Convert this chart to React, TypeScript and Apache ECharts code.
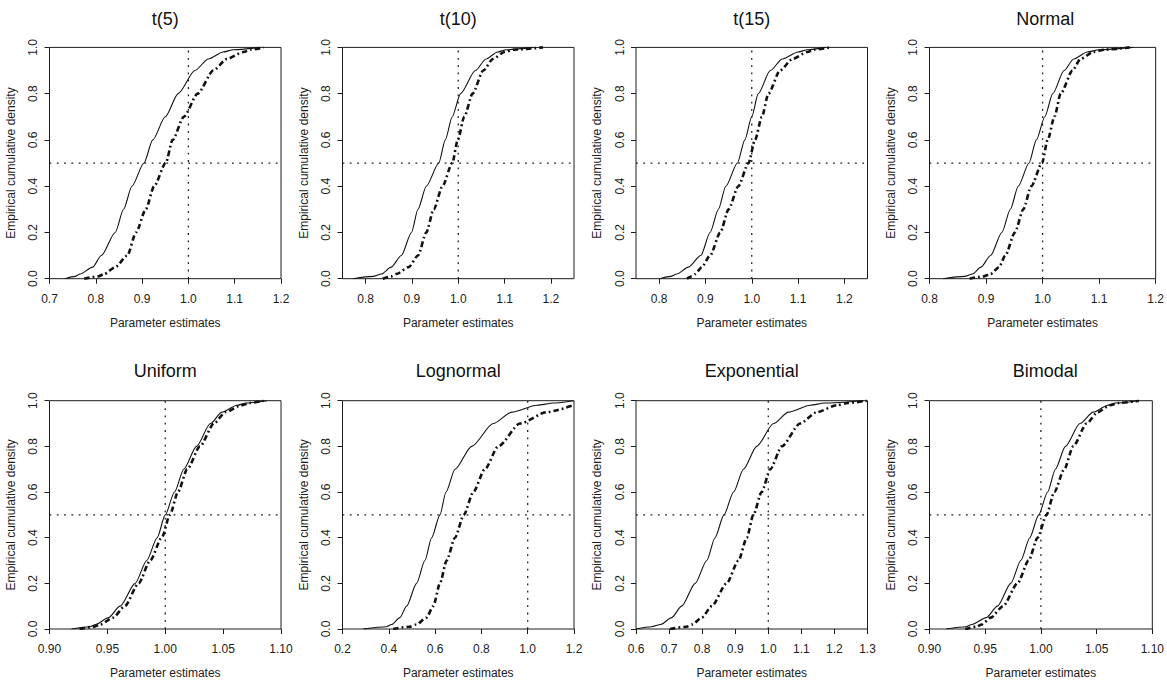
import React, { useEffect, useRef } from "react";
import * as echarts from "echarts";

// Cumulative probability levels at which each curve's quantiles are listed
const PROBS = [0, 0.01, 0.02, 0.05, 0.1, 0.2, 0.3, 0.4, 0.5, 0.6, 0.7, 0.8, 0.9, 0.95, 0.98, 0.99, 1];

// Quantiles of the parameter estimates (solid = thin line, dashed = thick dot-dash line)
const T5_SOLID = [0.734, 0.755, 0.766, 0.793, 0.812, 0.842, 0.86, 0.878, 0.904, 0.923, 0.95, 0.978, 1.014, 1.043, 1.075, 1.097, 1.155];
const T5_DASHED = [0.775, 0.805, 0.818, 0.842, 0.868, 0.887, 0.908, 0.926, 0.951, 0.966, 0.99, 1.02, 1.054, 1.083, 1.119, 1.135, 1.162];

const T10_SOLID = [0.773, 0.816, 0.834, 0.855, 0.877, 0.899, 0.913, 0.931, 0.958, 0.972, 0.987, 1.005, 1.037, 1.06, 1.085, 1.104, 1.162];
const T10_DASHED = [0.837, 0.855, 0.866, 0.893, 0.913, 0.931, 0.947, 0.966, 0.987, 0.999, 1.013, 1.031, 1.054, 1.075, 1.1, 1.12, 1.183];

const T15_SOLID = [0.802, 0.825, 0.838, 0.863, 0.89, 0.91, 0.928, 0.944, 0.969, 0.985, 1.0, 1.014, 1.04, 1.066, 1.1, 1.12, 1.16];
const T15_DASHED = [0.86, 0.87, 0.878, 0.892, 0.91, 0.932, 0.95, 0.971, 0.993, 1.007, 1.022, 1.036, 1.061, 1.088, 1.12, 1.135, 1.169];

const NORMAL_SOLID = [0.824, 0.862, 0.876, 0.891, 0.908, 0.928, 0.943, 0.957, 0.976, 0.989, 1.004, 1.018, 1.038, 1.055, 1.079, 1.1, 1.16];
const NORMAL_DASHED = [0.871, 0.895, 0.908, 0.923, 0.934, 0.951, 0.966, 0.98, 0.999, 1.009, 1.021, 1.032, 1.053, 1.067, 1.09, 1.11, 1.154];

const UNIFORM_SOLID = [0.919, 0.935, 0.94, 0.951, 0.961, 0.974, 0.984, 0.993, 1.0, 1.008, 1.016, 1.027, 1.039, 1.049, 1.062, 1.07, 1.088];
const UNIFORM_DASHED = [0.926, 0.938, 0.944, 0.955, 0.965, 0.977, 0.987, 0.997, 1.004, 1.011, 1.019, 1.03, 1.042, 1.052, 1.066, 1.073, 1.085];

const LOGNORMAL_SOLID = [0.289, 0.39, 0.412, 0.448, 0.477, 0.52, 0.556, 0.585, 0.621, 0.647, 0.686, 0.758, 0.851, 0.931, 1.04, 1.111, 1.2];
const LOGNORMAL_DASHED = [0.419, 0.49, 0.52, 0.563, 0.592, 0.621, 0.65, 0.686, 0.724, 0.765, 0.815, 0.873, 0.967, 1.082, 1.197];

const EXPONENTIAL_SOLID = [0.6, 0.647, 0.675, 0.708, 0.738, 0.779, 0.814, 0.839, 0.866, 0.895, 0.925, 0.965, 1.016, 1.061, 1.127, 1.17, 1.288];
const EXPONENTIAL_DASHED = [0.703, 0.753, 0.77, 0.799, 0.829, 0.874, 0.91, 0.935, 0.955, 0.98, 1.006, 1.041, 1.096, 1.147, 1.207, 1.24, 1.298];

const BIMODAL_SOLID = [0.915, 0.933, 0.938, 0.951, 0.961, 0.973, 0.982, 0.99, 0.998, 1.006, 1.013, 1.022, 1.035, 1.047, 1.06, 1.067, 1.088];
const BIMODAL_DASHED = [0.932, 0.942, 0.947, 0.955, 0.966, 0.979, 0.989, 0.997, 1.005, 1.012, 1.021, 1.029, 1.041, 1.051, 1.062, 1.07, 1.088];

// Axis tick labels
const TICKS_T5 = [0.7, 0.8, 0.9, 1.0, 1.1, 1.2];
const TICKS_T = [0.8, 0.9, 1.0, 1.1, 1.2];
const TICKS_NARROW = [0.9, 0.95, 1.0, 1.05, 1.1];
const TICKS_LOGNORMAL = [0.2, 0.4, 0.6, 0.8, 1.0, 1.2];
const TICKS_EXPONENTIAL = [0.6, 0.7, 0.8, 0.9, 1.0, 1.1, 1.2, 1.3];
const Y_TICKS = [0, 0.2, 0.4, 0.6, 0.8, 1.0];

// Reference lines: true parameter value and median
const TRUE_VALUE = 1.0;
const MEDIAN_LEVEL = 0.5;

const TITLES = ["t(5)", "t(10)", "t(15)", "Normal", "Uniform", "Lognormal", "Exponential", "Bimodal"];
const X_RANGES: [number, number][] = [
  [0.7, 1.2], [0.75, 1.25], [0.75, 1.25], [0.8, 1.2],
  [0.9, 1.1], [0.2, 1.2], [0.6, 1.3], [0.9, 1.1],
];
const X_TICKS = [TICKS_T5, TICKS_T, TICKS_T, TICKS_T, TICKS_NARROW, TICKS_LOGNORMAL, TICKS_EXPONENTIAL, TICKS_NARROW];
const X_DIGITS = [1, 1, 1, 1, 2, 1, 1, 2];
const SOLIDS = [T5_SOLID, T10_SOLID, T15_SOLID, NORMAL_SOLID, UNIFORM_SOLID, LOGNORMAL_SOLID, EXPONENTIAL_SOLID, BIMODAL_SOLID];
const DASHEDS = [T5_DASHED, T10_DASHED, T15_DASHED, NORMAL_DASHED, UNIFORM_DASHED, LOGNORMAL_DASHED, EXPONENTIAL_DASHED, BIMODAL_DASHED];

// Layout of the 2 x 4 panel grid
const FONT = '"Liberation Sans", Arial, Helvetica, sans-serif';
const INK = "#1c1c1c";
const COL_LEFT = [49.5, 342.5, 636, 929.5];
const ROW_TOP = [47.4, 400.7];
const BOX_W = 231.5;
const BOX_H = [231.3, 232];
const TITLE_Y = [18.8, 371.2];
const Y_LABEL_GAP = 16.5; // distance from the left frame to the centre of the rotated y tick labels

const toPoints = (xs: number[]) => xs.map((x, k) => [x, PROBS[k]]);

export default function App() {
  const ref = useRef<HTMLDivElement>(null);

  useEffect(() => {
    if (!ref.current) return;
    const chart = echarts.init(ref.current, null, { renderer: "svg" });

    const grid: any[] = [];
    const xAxis: any[] = [];
    const yAxis: any[] = [];
    const series: any[] = [];
    const titles: any[] = [];

    TITLES.forEach((title, i) => {
      const row = Math.floor(i / 4);
      const col = i % 4;
      const [xMin, xMax] = X_RANGES[i];
      const digits = X_DIGITS[i];

      grid.push({
        left: COL_LEFT[col],
        top: ROW_TOP[row],
        width: BOX_W,
        height: BOX_H[row],
        show: true,
        borderColor: INK,
        borderWidth: 1,
        backgroundColor: "transparent",
      });

      xAxis.push({
        type: "value",
        gridIndex: i,
        min: xMin,
        max: xMax,
        name: "Parameter estimates",
        nameLocation: "middle",
        nameGap: 38,
        nameTextStyle: { fontFamily: FONT, fontSize: 12, color: INK },
        axisLine: { show: false },
        splitLine: { show: false },
        axisTick: { show: true, length: 5, lineStyle: { color: INK, width: 1 }, customValues: X_TICKS[i] },
        axisLabel: {
          customValues: X_TICKS[i],
          formatter: (v: number) => v.toFixed(digits),
          margin: 14,
          fontFamily: FONT,
          fontSize: 12,
          color: INK,
        },
      });

      yAxis.push({
        type: "value",
        gridIndex: i,
        min: 0,
        max: 1,
        name: "Empirical cumulative density",
        nameLocation: "middle",
        nameGap: 33,
        nameRotate: 90,
        nameTextStyle: { fontFamily: FONT, fontSize: 12, color: INK },
        axisLine: { show: false },
        splitLine: { show: false },
        axisTick: { show: true, length: 5, lineStyle: { color: INK, width: 1 }, customValues: Y_TICKS },
        // tick labels are drawn rotated (reading upwards) in the graphic layer below
        axisLabel: { show: false, customValues: Y_TICKS },
      });

      const common = {
        type: "line",
        xAxisIndex: i,
        yAxisIndex: i,
        showSymbol: false,
        symbol: "none",
        silent: true,
        clip: true,
      };

      // Reference lines
      series.push({
        ...common,
        data: [[TRUE_VALUE, 0], [TRUE_VALUE, 1]],
        lineStyle: { color: INK, width: 1.3, type: [1.8, 5.5] },
      });
      series.push({
        ...common,
        data: [[xMin, MEDIAN_LEVEL], [xMax, MEDIAN_LEVEL]],
        lineStyle: { color: INK, width: 1.3, type: [1.8, 5.5] },
      });

      // Empirical CDF curves
      series.push({
        ...common,
        data: toPoints(SOLIDS[i]),
        smooth: 0.25,
        smoothMonotone: "x",
        lineStyle: { color: "#111", width: 1.1, type: "solid" },
      });
      series.push({
        ...common,
        data: toPoints(DASHEDS[i]),
        smooth: 0.25,
        smoothMonotone: "x",
        lineStyle: { color: "#111", width: 2.6, type: [5.5, 3, 1.8, 3] },
      });

      titles.push({
        type: "text",
        x: COL_LEFT[col] + BOX_W / 2,
        y: TITLE_Y[row],
        style: {
          text: title,
          fontFamily: FONT,
          fontSize: 18,
          fill: "#111",
          align: "center",
          verticalAlign: "middle",
        },
      });
    });

    chart.setOption({
      animation: false,
      backgroundColor: "#ffffff",
      grid,
      xAxis,
      yAxis,
      series,
    });

    // Rotated y tick labels placed through each panel's own scale
    const yLabels: any[] = [];
    TITLES.forEach((_, i) => {
      const xMin = X_RANGES[i][0];
      Y_TICKS.forEach((v) => {
        const pt = chart.convertToPixel({ gridIndex: i }, [xMin, v]) as number[];
        yLabels.push({
          type: "text",
          x: pt[0] - Y_LABEL_GAP,
          y: pt[1],
          rotation: Math.PI / 2,
          style: {
            text: v.toFixed(1),
            fontFamily: FONT,
            fontSize: 12,
            fill: INK,
            align: "center",
            verticalAlign: "middle",
          },
        });
      });
    });

    chart.setOption({ graphic: [...titles, ...yLabels] });

    return () => chart.dispose();
  }, []);

  return (
    <div
      ref={ref}
      style={{ position: "absolute", left: 0, top: 0, width: 1167, height: 680, background: "#fff" }}
    />
  );
}
